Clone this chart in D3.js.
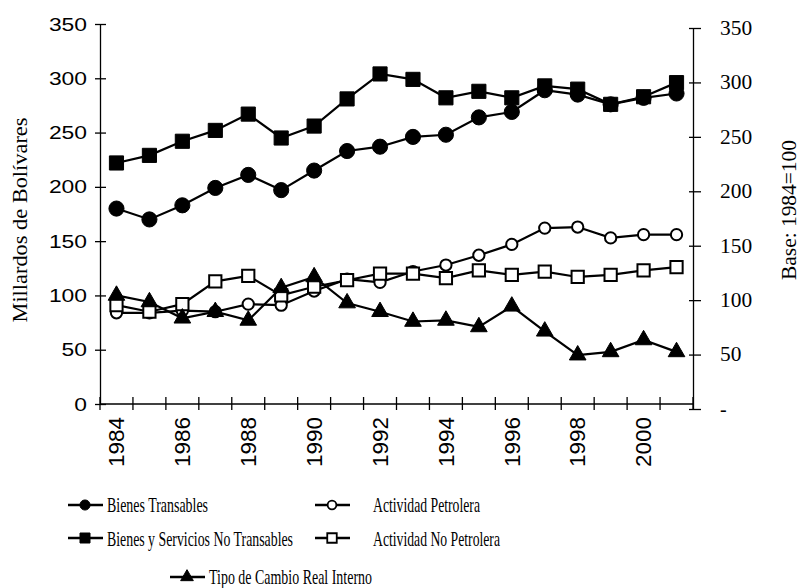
<!DOCTYPE html>
<html>
<head>
<meta charset="utf-8">
<script src="https://cdn.jsdelivr.net/npm/d3@7"></script>
<style>
	body{margin:0;background:#fff;}
	svg{display:block;}
</style>
</head>
<body>
<div class="chart"></div>
<script>
const years=[1984,1985,1986,1987,1988,1989,1990,1991,1992,1993,1994,1995,1996,1997,1998,1999,2000,2001]
const yearLabels=[1984,1986,1988,1990,1992,1994,1996,1998,2000]
const yTicks=[0,50,100,150,200,250,300,350]

const bienesTransables=[180,170,183,199,211,197,215,233,237,246,248,264,269,289,285,276,282,286]
const noTransables=[222,229,242,252,267,245,256,281,304,299,282,288,282,293,290,276,283,296]
const petrolera=[84,84,86,85,92,91,104,115,112,122,128,137,147,162,163,153,156,156]
const noPetrolera=[91,85,92,113,118,100,108,114,120,120,116,123,119,122,117,119,123,126]
const tipoCambio=[100,94,79,85,77,107,117,93,85,76,77,71,90,67,45,48,59,48]

const names=['Bienes Transables','Bienes y Servicios No Transables','Actividad Petrolera','Actividad No Petrolera','Tipo de Cambio Real Interno']

const sans='"Liberation Sans", Arial, sans-serif'
const serif='"Liberation Serif", "Times New Roman", serif'

const width=801, height=588

const svg=d3.select('.chart').append('svg')
		.attr('width',width)
		.attr('height',height)

const x=d3.scaleBand()
		.domain(years)
		.range([100,693])

const yL=d3.scaleLinear()
		.domain([0,350])
		.range([404,24])

// the right axis sits a few px lower in the scan
const yR=d3.scaleLinear()
		.domain([0,350])
		.range([409,28])

const cx=d=>x(d)+x.bandwidth()/2

// series, drawn in this order
const series=[
	{name:names[0],values:bienesTransables,symbol:d3.symbolCircle,size:180,legSize:80,fill:'#000'},
	{name:names[1],values:noTransables,symbol:d3.symbolSquare,size:200,legSize:100,fill:'#000'},
	{name:names[2],values:petrolera,symbol:d3.symbolCircle,size:100,legSize:60,fill:'#fff'},
	{name:names[3],values:noPetrolera,symbol:d3.symbolSquare,size:150,legSize:90,fill:'#fff'},
	{name:names[4],values:tipoCambio,symbol:d3.symbolTriangle,size:120,legSize:70,fill:'#000'}
]

// left axis
const leftAxis=svg.append('g')
		.attr('transform','translate(100,0)')
		.call(d3.axisLeft(yL).tickValues(yTicks).tickSize(0).tickSizeOuter(0).tickPadding(13))
leftAxis.select('.domain').attr('stroke','#000').attr('stroke-width',1.3)
leftAxis.selectAll('.tick line').attr('x1',-5).attr('x2',6).attr('stroke','#000').attr('stroke-width',1.3)
leftAxis.selectAll('.tick text')
		.attr('font-family',sans)
		.attr('font-size',19)
		.attr('fill','#000')
		.attr('textLength',d=>String(d).length*12.7)
		.attr('lengthAdjust','spacingAndGlyphs')

// right axis
const rightAxis=svg.append('g')
		.attr('transform','translate(693,0)')
		.call(d3.axisRight(yR).tickValues(yTicks).tickSize(0).tickSizeOuter(0).tickPadding(27)
			.tickFormat(d=>d===0?'-':d))
rightAxis.select('.domain').attr('stroke','#000').attr('stroke-width',1.3)
rightAxis.selectAll('.tick line').attr('x1',-4).attr('x2',8).attr('stroke','#000').attr('stroke-width',1.3)
rightAxis.selectAll('.tick text')
		.attr('font-family',serif)
		.attr('font-size',20)
		.attr('fill','#000')
		.filter(d=>d!==0)
		.attr('textLength',d=>String(d).length*10.7)
		.attr('lengthAdjust','spacingAndGlyphs')

// x axis
const xAxisG=svg.append('g').attr('class','x-axis')
xAxisG.append('line')
		.attr('x1',100).attr('x2',693)
		.attr('y1',yL(0)).attr('y2',yL(0))
		.attr('stroke','#000').attr('stroke-width',1.3)
xAxisG.selectAll('.xtick')
		.data(years.concat(['end']))
		.enter()
		.append('line')
		.attr('class','xtick')
		.attr('x1',d=>d==='end'?693:x(d))
		.attr('x2',d=>d==='end'?693:x(d))
		.attr('y1',yL(0)-7)
		.attr('y2',yL(0)+6)
		.attr('stroke','#000').attr('stroke-width',1.3)
xAxisG.selectAll('.xlabel')
		.data(yearLabels)
		.enter()
		.append('text')
		.attr('class','xlabel')
		.attr('transform',d=>`translate(${cx(d)},417) rotate(-90)`)
		.attr('text-anchor','end')
		.attr('dy','0.35em')
		.attr('font-family',sans)
		.attr('font-size',22)
		.attr('textLength',50)
		.attr('lengthAdjust','spacingAndGlyphs')
		.text(d=>d)

// axis titles
svg.append('text')
		.attr('transform','translate(27,220) rotate(-90)')
		.attr('text-anchor','middle')
		.attr('font-family',serif)
		.attr('font-size',20)
		.attr('textLength',205)
		.attr('lengthAdjust','spacingAndGlyphs')
		.text('Millardos de Bolívares')

svg.append('text')
		.attr('transform','translate(796,210) rotate(-90)')
		.attr('text-anchor','middle')
		.attr('font-family',serif)
		.attr('font-size',21)
		.attr('textLength',140)
		.attr('lengthAdjust','spacingAndGlyphs')
		.text('Base: 1984=100')

// lines + markers
const line=d3.line()
		.x((d,i)=>cx(years[i]))
		.y(d=>yL(d))

series.forEach(s=>{
	svg.append('path')
		.datum(s.values)
		.attr('d',line)
		.attr('fill','none')
		.attr('stroke','#000')
		.attr('stroke-width',2.2)

	svg.selectAll(null)
		.data(s.values)
		.enter()
		.append('path')
		.attr('transform',(d,i)=>`translate(${cx(years[i])},${yL(d)})`)
		.attr('d',d3.symbol().type(s.symbol).size(s.size))
		.attr('fill',s.fill)
		.attr('stroke','#000')
		.attr('stroke-width',s.fill=='#fff'?2:1)
})

// legend
const legendPos=[
	{x:68,y:505,tx:107,ty:512,w:101},
	{x:68,y:538,tx:107,ty:546,w:186},
	{x:315,y:505,tx:373,ty:512,w:107},
	{x:315,y:538,tx:373,ty:546,w:127},
	{x:170,y:577,tx:209,ty:584,w:163}
]

const legend=svg.selectAll('.legend')
		.data(series)
		.enter()
		.append('g')
		.attr('class','legend')

legend.append('line')
		.attr('x1',(d,i)=>legendPos[i].x)
		.attr('x2',(d,i)=>legendPos[i].x+35)
		.attr('y1',(d,i)=>legendPos[i].y)
		.attr('y2',(d,i)=>legendPos[i].y)
		.attr('stroke','#000')
		.attr('stroke-width',2.4)

legend.append('path')
		.attr('transform',(d,i)=>`translate(${legendPos[i].x+17},${legendPos[i].y})`)
		.attr('d',d=>d3.symbol().type(d.symbol).size(d.legSize)())
		.attr('fill',d=>d.fill)
		.attr('stroke','#000')
		.attr('stroke-width',d=>d.fill=='#fff'?1.8:1)

legend.append('text')
		.attr('x',(d,i)=>legendPos[i].tx)
		.attr('y',(d,i)=>legendPos[i].ty)
		.attr('font-family',serif)
		.attr('font-size',21)
		.attr('textLength',(d,i)=>legendPos[i].w)
		.attr('lengthAdjust','spacingAndGlyphs')
		.text(d=>d.name)
</script>
</body>
</html>
